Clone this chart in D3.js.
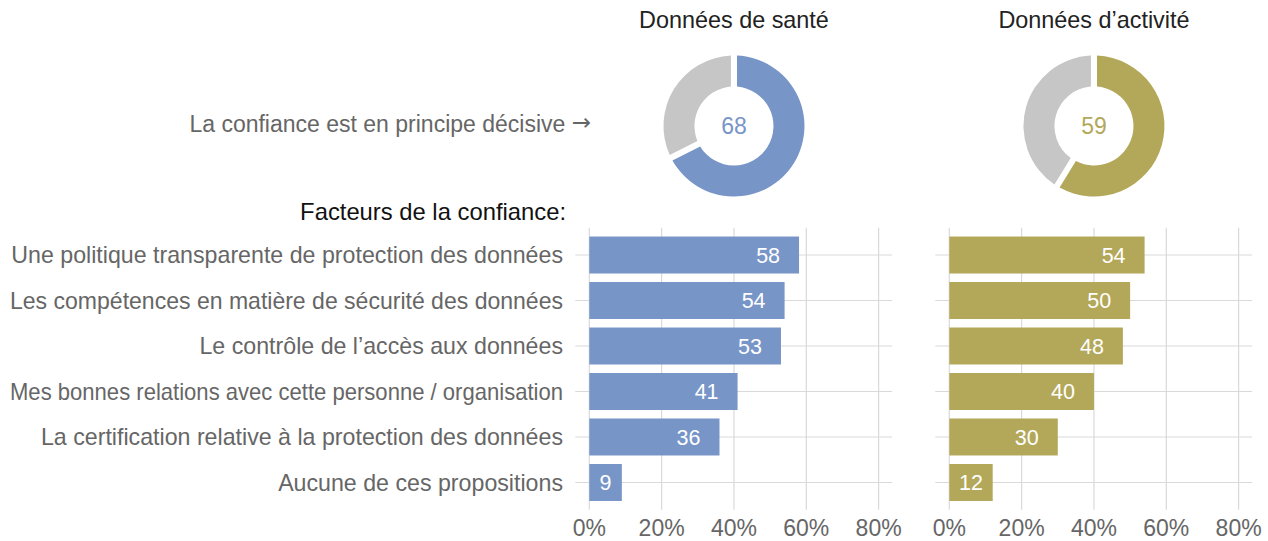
<!DOCTYPE html>
<html>
<head>
<meta charset="utf-8">
<script src="https://cdn.jsdelivr.net/npm/d3@7"></script>
<style>
  body { margin: 0; background: #fff; }
  text { font-family: "Liberation Sans", Arial, Helvetica, sans-serif; }
</style>
</head>
<body>
<div id="chart"></div>
<script>
const factors = [
	'Une politique transparente de protection des données',
	'Les compétences en matière de sécurité des données',
	'Le contrôle de l’accès aux données',
	'Mes bonnes relations avec cette personne / organisation',
	'La certification relative à la protection des données',
	'Aucune de ces propositions',
];
const panelTitles = ['Données de santé', 'Données d’activité'];
const trustValues = [68, 59];
const healthValues = [58, 54, 53, 41, 36, 9];
const activityValues = [54, 50, 48, 40, 30, 12];
const xTicks = [0, 20, 40, 60, 80];

const colors = ['#7895c8', '#b3a85a'];
const grey = '#c6c6c6';
const gridColor = '#d9d9d9';

const svg = d3.select('#chart').append('svg').attr('width', 1268).attr('height', 541);

const y = d3.scaleBand().domain(factors).range([229.7, 507.8]).paddingInner(0.187).paddingOuter(0.15);

// Row labels (long ones squeezed to fit the left margin)
svg
	.append('g')
	.selectAll('text')
	.data(factors)
	.enter()
	.append('text')
	.attr('x', 563)
	.attr('y', (d) => y(d) + y.bandwidth() / 2)
	.attr('dy', '0.35em')
	.attr('text-anchor', 'end')
	.attr('fill', '#666')
	.style('font-size', '23.2px')
	.text((d) => d)
	.each(function () {
		if (this.getComputedTextLength() > 553) {
			d3.select(this).attr('textLength', 553).attr('lengthAdjust', 'spacingAndGlyphs');
		}
	});

const lead = svg
	.append('text')
	.attr('x', 591)
	.attr('y', 124)
	.attr('dy', '0.35em')
	.attr('text-anchor', 'end')
	.attr('fill', '#666')
	.style('font-size', '23px');
lead.append('tspan').text('La confiance est en principe décisive ');
lead.append('tspan').style('font-family', '"DejaVu Sans"').attr('dy', '-0.08em').text('→');

svg
	.append('text')
	.attr('x', 566)
	.attr('y', 212)
	.attr('dy', '0.35em')
	.attr('text-anchor', 'end')
	.attr('fill', '#111')
	.style('font-size', '23.8px')
	.text('Facteurs de la confiance:');

const panel = (values, i, x0) => {
	const x = d3.scaleLinear().domain([0, 83.7]).range([x0, x0 + 302.7]);
	const g = svg.append('g');
	const color = colors[i];

	// Grid
	g.selectAll('.vgrid')
		.data(xTicks)
		.enter()
		.append('line')
		.attr('x1', (d) => x(d))
		.attr('x2', (d) => x(d))
		.attr('y1', y.range()[0] - 2)
		.attr('y2', y.range()[1] + 2)
		.attr('stroke', gridColor)
		.attr('stroke-width', 1.2);

	g.selectAll('.hgrid')
		.data(factors)
		.enter()
		.append('line')
		.attr('x1', x(0) - 14)
		.attr('x2', x.range()[1])
		.attr('y1', (d) => y(d) + y.bandwidth() / 2)
		.attr('y2', (d) => y(d) + y.bandwidth() / 2)
		.attr('stroke', gridColor)
		.attr('stroke-width', 1.2);

	// Axis labels
	g.selectAll('.tick')
		.data(xTicks)
		.enter()
		.append('text')
		.attr('x', (d) => x(d))
		.attr('y', 528)
		.attr('dy', '0.35em')
		.attr('text-anchor', 'middle')
		.attr('fill', '#666')
		.style('font-size', '23px')
		.text((d) => d + '%');

	// Bars
	g.selectAll('rect')
		.data(values)
		.enter()
		.append('rect')
		.attr('x', x(0))
		.attr('y', (d, j) => y(factors[j]))
		.attr('width', (d) => x(d) - x(0))
		.attr('height', y.bandwidth())
		.attr('fill', color);

	g.selectAll('.val')
		.data(values)
		.enter()
		.append('text')
		.attr('x', (d) => (x(d) - x(0) > 60 ? x(d) - 19 : (x(0) + x(d)) / 2))
		.attr('y', (d, j) => y(factors[j]) + y.bandwidth() / 2)
		.attr('dy', '0.35em')
		.attr('text-anchor', (d) => (x(d) - x(0) > 60 ? 'end' : 'middle'))
		.attr('fill', '#fff')
		.style('font-size', '21.5px')
		.text((d) => d);

	// Donut
	const cx = x(40);
	const cy = 126;
	const pie = d3.pie().sort(null).padAngle(0.075).value((d) => d);
	const arc = d3.arc().innerRadius(39.5).outerRadius(70.5);
	const donut = g.append('g').attr('transform', `translate(${cx},${cy})`);
	donut
		.selectAll('path')
		.data(pie([trustValues[i], 100 - trustValues[i]]))
		.enter()
		.append('path')
		.attr('d', arc)
		.attr('fill', (d, k) => (k === 0 ? color : grey));
	donut
		.append('text')
		.attr('dy', '0.35em')
		.attr('text-anchor', 'middle')
		.attr('fill', color)
		.style('font-size', '23px')
		.text(trustValues[i]);

	g.append('text')
		.attr('x', cx)
		.attr('y', 20)
		.attr('dy', '0.35em')
		.attr('text-anchor', 'middle')
		.attr('fill', '#222')
		.style('font-size', '23.4px')
		.text(panelTitles[i]);
};

panel(healthValues, 0, 589.3);
panel(activityValues, 1, 949.3);
</script>
</body>
</html>
